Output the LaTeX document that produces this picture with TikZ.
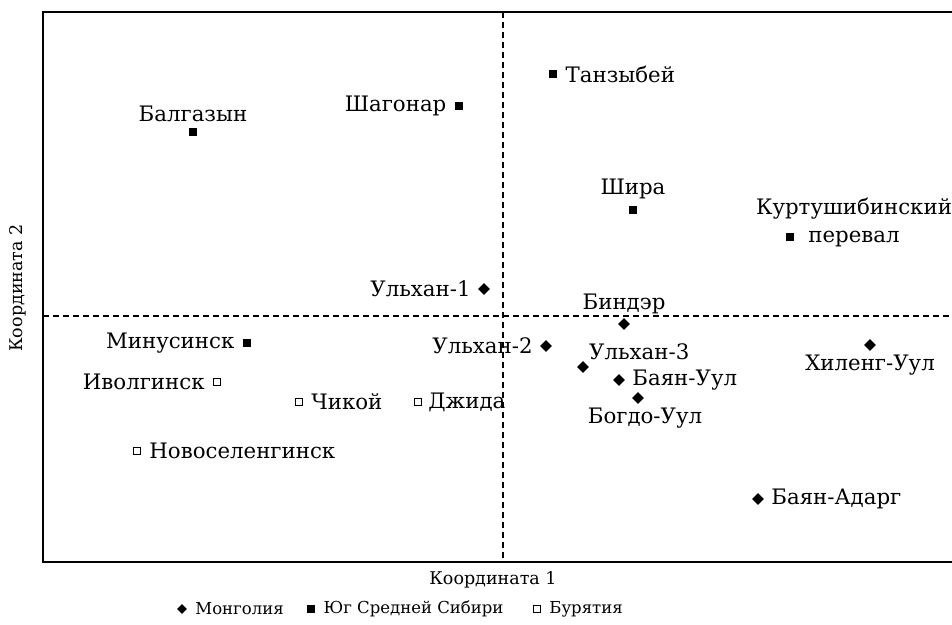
\documentclass[tikz,border=0pt]{standalone}
\usepackage{fontspec}
\setmainfont{DejaVu Serif}
\usetikzlibrary{shapes.geometric,positioning}
\tikzset{
  mong/.style={diamond,fill=black,inner sep=0pt,minimum size=12pt},
  sib/.style={rectangle,fill=black,inner sep=0pt,minimum size=8.5pt},
  bur/.style={rectangle,draw=black,line width=0.9pt,fill=white,inner sep=0pt,minimum size=7.5pt},
  txt/.style={inner sep=1pt,font=\fontsize{21.3}{28}\selectfont},
  axtxt/.style={inner sep=1pt,font=\fontsize{17.5}{20}\selectfont},
  legtxt/.style={inner sep=1pt,font=\fontsize{16.5}{19}\selectfont},
  axis/.style={line width=1.2pt,dash pattern=on 6pt off 4pt},
}
\begin{document}
\begin{tikzpicture}[x=1pt,y=-1pt]
\useasboundingbox (0,0) rectangle (952,624);

% frame and axes
\draw[line width=1.4pt] (952,12) -- (43,12) -- (43,562) -- (952,562);
\draw[axis] (503,12) -- (503,562);
\draw[axis] (43,316) -- (952,316);

\node[axtxt] (xlab) at (493,580) {Координата 1};
\node[axtxt,rotate=90] (ylab) at (18,288) {Координата 2};

% Монголия
\node[mong] (U1) at (484,289) {};
\node[mong] (Bi) at (624,324) {};
\node[mong] (U2) at (546,346) {};
\node[mong] (U3) at (583,367) {};
\node[mong] (BU) at (619,380) {};
\node[mong] (BgU) at (638,398) {};
\node[mong] (HU) at (870,345) {};
\node[mong] (BA) at (758,499) {};

\node[txt,left=6pt of U1] {Ульхан-1};
\node[txt,above=3pt of Bi] {Биндэр};
\node[txt,left=6pt of U2] {Ульхан-2};
\node[txt,anchor=west] at (588,352) {Ульхан-3};
\node[txt,right=6pt of BU] {Баян-Уул};
\node[txt,below=3pt of BgU,xshift=7pt] {Богдо-Уул};
\node[txt,below=3pt of HU] {Хиленг-Уул};
\node[txt,right=6pt of BA] {Баян-Адарг};

% Юг Средней Сибири
\node[sib] (Ba) at (193,132) {};
\node[sib] (Sh) at (459,106) {};
\node[sib] (Ta) at (553,74) {};
\node[sib] (Si) at (633,210) {};
\node[sib] (Ku) at (790,237) {};
\node[sib] (Mi) at (247,343) {};

\node[txt,above=5pt of Ba] {Балгазын};
\node[txt,left=7pt of Sh] {Шагонар};
\node[txt,right=7pt of Ta] {Танзыбей};
\node[txt,above=5pt of Si] {Шира};
\node[txt,align=center] at (854,222) {Куртушибинский\\перевал};
\node[txt,left=7pt of Mi] {Минусинск};

% Бурятия
\node[bur] (Iv) at (217,382) {};
\node[bur] (Ch) at (299,402) {};
\node[bur] (Dz) at (418,402) {};
\node[bur] (No) at (137,451) {};

\node[txt,left=7pt of Iv] {Иволгинск};
\node[txt,right=7pt of Ch] {Чикой};
\node[txt,right=5pt of Dz] {Джида};
\node[txt,right=7pt of No] {Новоселенгинск};

% legend
\node[mong,minimum size=10pt] (Lm) at (182,609) {};
\node[legtxt,right=7pt of Lm] {Монголия};
\node[sib] (Ls) at (311,609) {};
\node[legtxt,right=7pt of Ls] {Юг Средней Сибири};
\node[bur] (Lb) at (537,609) {};
\node[legtxt,right=7pt of Lb] {Бурятия};
\end{tikzpicture}
\end{document}
